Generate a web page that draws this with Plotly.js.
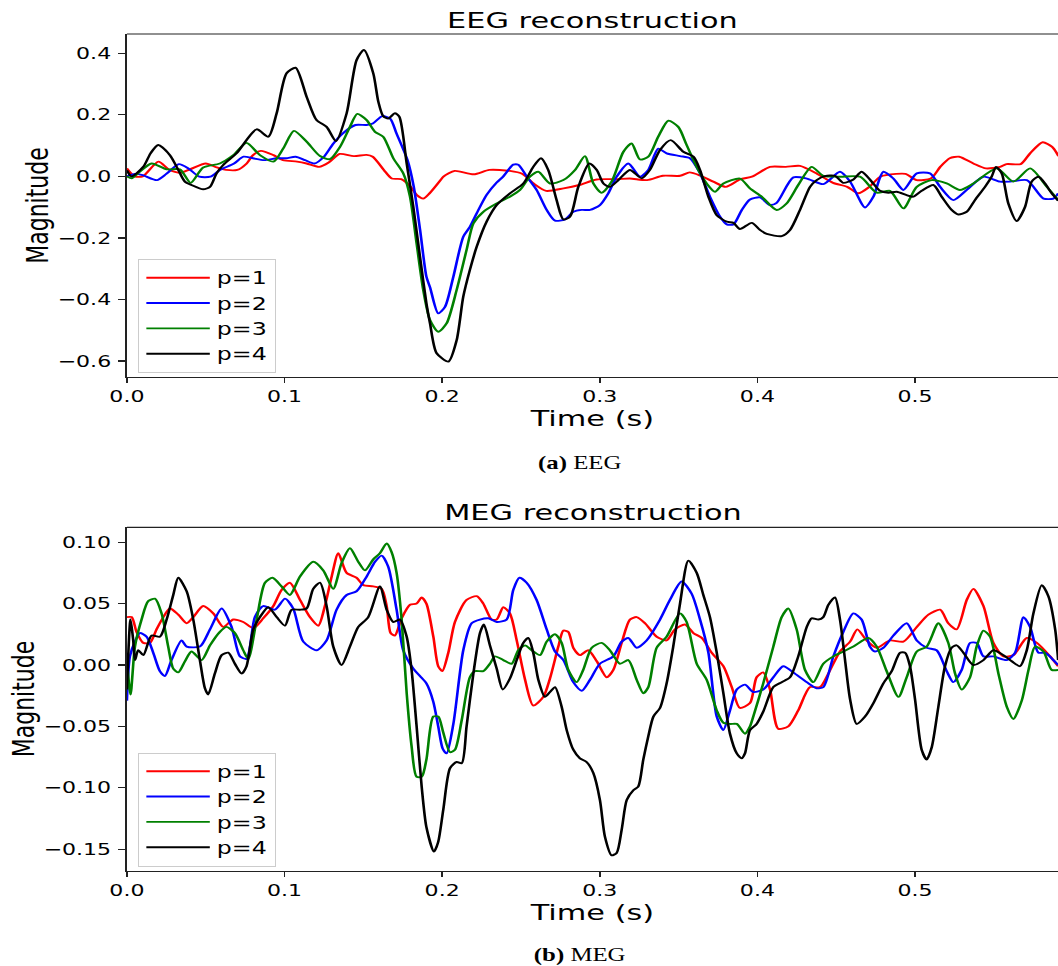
<!DOCTYPE html>
<html><head><meta charset="utf-8">
<script src="https://cdn.plot.ly/plotly-3.0.1.min.js"></script>
<style>
html,body{margin:0;padding:0;overflow:hidden;background:#fff;}
#wrap{width:1058px;height:966px;overflow:hidden;position:relative;}
#chart{width:767px;height:966px;transform:scaleX(1.37940);transform-origin:0 0;}
</style></head><body><div id="wrap"><div id="chart"></div></div>
<script>
// ---- data: [time (s), magnitude] ----
const seriesNames = ['p=1','p=2','p=3','p=4'];
const timeTicks = [0.0,0.1,0.2,0.3,0.4,0.5];
const eegTicks = [-0.6,-0.4,-0.2,0.0,0.2,0.4];
const megTicks = [-0.15,-0.10,-0.05,0.00,0.05,0.10];

const eegP1 = [[0.000,0.026],[0.005,0.000],[0.010,0.000],[0.020,0.048],[0.027,0.021],[0.034,0.012],[0.040,0.023],[0.050,0.042],[0.057,0.029],[0.063,0.021],[0.070,0.021],[0.076,0.042],[0.080,0.069],[0.085,0.083],[0.093,0.069],[0.099,0.053],[0.108,0.048],[0.114,0.042],[0.122,0.031],[0.128,0.045],[0.135,0.073],[0.144,0.066],[0.152,0.070],[0.156,0.064],[0.163,0.021],[0.168,-0.007],[0.174,-0.009],[0.180,-0.034],[0.184,-0.061],[0.188,-0.072],[0.192,-0.055],[0.199,-0.012],[0.201,0.000],[0.208,0.018],[0.220,0.007],[0.230,0.021],[0.243,0.018],[0.251,0.008],[0.258,-0.023],[0.266,-0.047],[0.277,-0.039],[0.287,-0.028],[0.298,-0.010],[0.311,-0.009],[0.319,-0.007],[0.330,-0.012],[0.340,0.002],[0.351,0.002],[0.357,0.013],[0.364,0.002],[0.372,-0.017],[0.380,-0.034],[0.389,-0.010],[0.397,0.000],[0.408,0.031],[0.418,0.031],[0.427,0.034],[0.438,0.008],[0.448,-0.021],[0.457,-0.034],[0.464,-0.055],[0.471,-0.034],[0.478,-0.001],[0.488,0.008],[0.494,0.008],[0.501,-0.012],[0.510,-0.007],[0.516,0.031],[0.522,0.059],[0.528,0.064],[0.537,0.042],[0.545,0.026],[0.554,0.031],[0.558,0.040],[0.567,0.040],[0.573,0.075],[0.581,0.111],[0.587,0.096],[0.591,0.066]];

const eegP2 = [[0.000,0.000],[0.005,0.008],[0.010,0.004],[0.019,-0.012],[0.025,0.008],[0.033,0.040],[0.039,0.026],[0.046,-0.001],[0.053,-0.001],[0.059,0.021],[0.068,0.042],[0.074,0.064],[0.080,0.059],[0.087,0.053],[0.095,0.059],[0.101,0.059],[0.107,0.064],[0.113,0.053],[0.119,0.042],[0.125,0.064],[0.131,0.107],[0.137,0.140],[0.145,0.167],[0.152,0.167],[0.156,0.172],[0.162,0.196],[0.167,0.188],[0.171,0.140],[0.178,0.053],[0.182,-0.034],[0.186,-0.174],[0.190,-0.326],[0.1923,-0.360],[0.1975,-0.445],[0.2018,-0.424],[0.2071,-0.326],[0.2134,-0.196],[0.2176,-0.164],[0.2219,-0.120],[0.2282,-0.060],[0.2346,-0.020],[0.2388,0.000],[0.2451,0.038],[0.2483,0.038],[0.2536,0.000],[0.2599,-0.044],[0.2663,-0.109],[0.2716,-0.144],[0.2779,-0.140],[0.2832,-0.115],[0.2885,-0.109],[0.2938,-0.109],[0.3001,-0.093],[0.3054,-0.055],[0.3107,-0.001],[0.3181,0.042],[0.3255,-0.001],[0.3308,0.021],[0.3371,0.090],[0.3424,0.075],[0.3509,0.066],[0.3572,0.059],[0.3636,0.010],[0.3699,-0.066],[0.3763,-0.131],[0.3805,-0.156],[0.3848,-0.156],[0.3900,-0.110],[0.3953,-0.075],[0.4016,-0.068],[0.4080,-0.093],[0.4122,-0.086],[0.4228,-0.003],[0.4313,-0.007],[0.4418,-0.025],[0.4524,0.015],[0.4588,-0.017],[0.4683,-0.101],[0.4736,-0.066],[0.4799,0.015],[0.4863,-0.007],[0.4926,-0.044],[0.5011,0.010],[0.5095,0.010],[0.5159,-0.034],[0.5243,-0.077],[0.5328,-0.044],[0.5434,-0.001],[0.5539,-0.017],[0.5603,-0.017],[0.5709,-0.012],[0.5815,-0.072],[0.5878,-0.072],[0.5908,-0.055]];

const eegP3 = [[0.000,0.000],[0.003,-0.006],[0.007,0.010],[0.0157,0.042],[0.0252,0.023],[0.0336,0.023],[0.0404,-0.021],[0.0484,0.029],[0.059,0.042],[0.0675,0.069],[0.0759,0.109],[0.0844,0.069],[0.0929,0.048],[0.0992,0.091],[0.106,0.148],[0.114,0.113],[0.1225,0.066],[0.1288,0.056],[0.1352,0.096],[0.1415,0.161],[0.1462,0.203],[0.1521,0.183],[0.1574,0.145],[0.1626,0.129],[0.169,0.059],[0.1753,0.010],[0.1796,-0.066],[0.1838,-0.218],[0.188,-0.369],[0.1923,-0.467],[0.1975,-0.505],[0.2028,-0.478],[0.2092,-0.369],[0.2155,-0.239],[0.2198,-0.153],[0.2261,-0.115],[0.2346,-0.088],[0.243,-0.066],[0.2494,-0.044],[0.2557,-0.001],[0.261,0.015],[0.2684,-0.023],[0.2769,-0.012],[0.2843,0.021],[0.2906,0.066],[0.2959,-0.023],[0.3012,-0.053],[0.3075,-0.017],[0.315,0.080],[0.3202,0.107],[0.3255,0.055],[0.3308,0.064],[0.3371,0.129],[0.3435,0.181],[0.3498,0.161],[0.3551,0.102],[0.3615,0.031],[0.3678,-0.023],[0.3731,-0.050],[0.3784,-0.023],[0.3889,-0.007],[0.3953,-0.039],[0.4027,-0.066],[0.4122,-0.109],[0.4185,-0.088],[0.4259,-0.028],[0.4344,0.031],[0.4418,0.002],[0.4524,-0.001],[0.4651,-0.001],[0.4757,-0.053],[0.4841,-0.047],[0.4926,-0.104],[0.5011,-0.034],[0.5106,-0.012],[0.5201,-0.023],[0.5285,-0.044],[0.537,-0.023],[0.5518,0.026],[0.5624,-0.017],[0.573,0.026],[0.5836,-0.034],[0.5908,-0.077]];

const eegP4 = [[0.000,0.020],[0.003,0.000],[0.0104,0.031],[0.015,0.075],[0.0199,0.102],[0.0273,0.069],[0.0326,0.021],[0.0368,-0.017],[0.041,-0.028],[0.0484,-0.042],[0.0527,-0.034],[0.0569,0.010],[0.0611,0.037],[0.0696,0.075],[0.0823,0.153],[0.0897,0.129],[0.095,0.205],[0.1013,0.335],[0.107,0.353],[0.114,0.259],[0.1203,0.183],[0.1267,0.161],[0.1326,0.115],[0.1394,0.205],[0.1457,0.378],[0.1504,0.411],[0.1563,0.335],[0.1595,0.243],[0.1626,0.196],[0.1658,0.188],[0.170,0.205],[0.1728,0.194],[0.1775,0.042],[0.1817,-0.099],[0.1859,-0.260],[0.190,-0.413],[0.1923,-0.478],[0.1965,-0.575],[0.2039,-0.602],[0.2092,-0.532],[0.2134,-0.391],[0.2176,-0.304],[0.2219,-0.229],[0.2282,-0.147],[0.2346,-0.093],[0.243,-0.055],[0.2515,-0.023],[0.2578,0.031],[0.2627,0.059],[0.2673,0.021],[0.2726,-0.077],[0.2769,-0.140],[0.2811,-0.131],[0.2864,-0.034],[0.2934,0.042],[0.2981,0.021],[0.3023,-0.023],[0.3064,-0.034],[0.3118,-0.012],[0.3191,0.021],[0.3266,-0.006],[0.3318,0.021],[0.3382,0.086],[0.345,0.118],[0.353,0.080],[0.3594,0.064],[0.3636,0.021],[0.3689,-0.066],[0.3742,-0.126],[0.3805,-0.147],[0.3848,-0.151],[0.3889,-0.171],[0.3964,-0.151],[0.4016,-0.174],[0.4059,-0.187],[0.4154,-0.194],[0.4207,-0.174],[0.427,-0.109],[0.4334,-0.034],[0.4376,-0.012],[0.4429,0.001],[0.4493,0.002],[0.4545,-0.021],[0.4609,-0.010],[0.4661,0.015],[0.4725,-0.017],[0.4778,-0.047],[0.4831,-0.053],[0.4884,-0.050],[0.4947,-0.061],[0.4989,-0.066],[0.5042,-0.047],[0.5116,-0.028],[0.5169,-0.066],[0.5232,-0.109],[0.5275,-0.124],[0.5328,-0.115],[0.538,-0.077],[0.5444,-0.034],[0.5486,-0.001],[0.5514,0.031],[0.555,0.010],[0.5592,-0.088],[0.5645,-0.145],[0.5698,-0.099],[0.574,-0.017],[0.5783,-0.001],[0.5825,-0.023],[0.5867,-0.055],[0.5908,-0.079]];

const megP1 = [[0.000,0.039],[0.003,0.039],[0.0061,0.027],[0.0104,0.018],[0.0146,0.018],[0.0188,0.029],[0.0231,0.039],[0.0273,0.046],[0.0326,0.041],[0.0379,0.034],[0.0421,0.039],[0.0484,0.048],[0.0548,0.042],[0.0611,0.031],[0.0675,0.037],[0.0738,0.035],[0.0802,0.030],[0.0865,0.038],[0.0929,0.048],[0.0981,0.061],[0.1034,0.067],[0.1098,0.053],[0.1161,0.039],[0.1214,0.032],[0.1256,0.048],[0.1299,0.072],[0.1341,0.091],[0.1394,0.075],[0.1457,0.071],[0.150,0.065],[0.1563,0.064],[0.1616,0.062],[0.1648,0.048],[0.1673,0.026],[0.170,0.024],[0.1743,0.038],[0.1796,0.049],[0.1838,0.050],[0.187,0.055],[0.190,0.050],[0.1944,0.023],[0.1975,-0.001],[0.2001,-0.005],[0.2039,0.010],[0.2081,0.035],[0.2155,0.053],[0.2219,0.056],[0.2261,0.050],[0.2314,0.037],[0.2346,0.037],[0.2388,0.047],[0.243,0.042],[0.2473,0.020],[0.2526,-0.012],[0.2578,-0.033],[0.2642,-0.026],[0.2684,-0.011],[0.2737,0.015],[0.2769,0.028],[0.280,0.027],[0.2832,0.014],[0.2874,0.008],[0.2927,0.012],[0.2981,0.003],[0.3044,-0.010],[0.3086,-0.004],[0.3139,0.018],[0.3191,0.037],[0.3234,0.039],[0.3287,0.034],[0.3361,0.023],[0.3424,0.020],[0.3477,0.029],[0.354,0.033],[0.3594,0.026],[0.3647,0.022],[0.371,0.010],[0.3784,-0.001],[0.3837,-0.018],[0.3889,-0.035],[0.3953,-0.031],[0.3995,-0.010],[0.4037,-0.006],[0.408,-0.020],[0.4133,-0.052],[0.4196,-0.050],[0.4259,-0.037],[0.4334,-0.018],[0.4397,-0.018],[0.445,-0.007],[0.4524,0.011],[0.4588,0.019],[0.4634,0.029],[0.4693,0.020],[0.4757,0.014],[0.4841,0.020],[0.4926,0.019],[0.5011,0.031],[0.5085,0.041],[0.5159,0.045],[0.5211,0.034],[0.5264,0.029],[0.5328,0.053],[0.537,0.062],[0.5434,0.048],[0.5497,0.018],[0.5561,0.007],[0.5624,0.008],[0.5709,0.022],[0.5773,0.018],[0.5857,0.007],[0.5908,-0.001]];

const megP2 = [[0.000,-0.029],[0.0019,0.007],[0.0051,0.019],[0.0082,0.026],[0.0125,0.023],[0.0167,0.010],[0.0209,-0.005],[0.0241,-0.009],[0.0283,0.004],[0.0347,0.020],[0.0379,0.015],[0.0463,0.015],[0.0527,0.029],[0.0601,0.046],[0.0664,0.031],[0.0717,0.007],[0.0759,0.005],[0.0812,0.039],[0.0865,0.048],[0.0939,0.045],[0.1003,0.054],[0.1055,0.046],[0.1119,0.019],[0.1203,0.012],[0.1267,0.020],[0.133,0.045],[0.1394,0.057],[0.1457,0.060],[0.1521,0.072],[0.1574,0.084],[0.1616,0.089],[0.1658,0.080],[0.1711,0.045],[0.1753,0.012],[0.1817,-0.003],[0.1859,-0.009],[0.190,-0.015],[0.1944,-0.030],[0.1975,-0.050],[0.2003,-0.068],[0.2028,-0.072],[0.2071,-0.048],[0.2134,0.012],[0.2187,0.034],[0.224,0.037],[0.2293,0.038],[0.2346,0.035],[0.2409,0.037],[0.2451,0.061],[0.249,0.071],[0.2536,0.067],[0.2599,0.053],[0.2663,0.029],[0.2716,0.011],[0.2769,0.004],[0.2832,-0.014],[0.2885,-0.021],[0.2938,-0.012],[0.3001,0.001],[0.3086,0.007],[0.3139,0.019],[0.3181,0.022],[0.3234,0.014],[0.3297,0.020],[0.3382,0.037],[0.3445,0.053],[0.3519,0.068],[0.3583,0.058],[0.3636,0.037],[0.3689,0.010],[0.3742,-0.042],[0.3784,-0.053],[0.3826,-0.037],[0.3869,-0.020],[0.3921,-0.016],[0.3974,-0.022],[0.4037,-0.020],[0.4101,-0.010],[0.4164,-0.001],[0.4238,-0.007],[0.4313,-0.014],[0.4376,-0.019],[0.4418,-0.018],[0.4482,0.007],[0.4545,0.027],[0.4609,0.042],[0.4661,0.037],[0.4714,0.015],[0.4746,0.011],[0.4799,0.014],[0.4863,0.024],[0.4947,0.034],[0.5011,0.020],[0.5074,0.014],[0.5137,0.012],[0.5201,-0.005],[0.5243,-0.014],[0.5296,-0.004],[0.5349,0.018],[0.5391,0.018],[0.5434,0.007],[0.5497,0.007],[0.5582,0.004],[0.5635,0.010],[0.5688,0.039],[0.573,0.031],[0.5783,0.010],[0.5825,0.010],[0.5878,0.004],[0.5908,0.000]];

const megP3 = [[0.000,0.004],[0.0023,-0.024],[0.0051,0.015],[0.0093,0.037],[0.0135,0.052],[0.0178,0.054],[0.022,0.042],[0.0262,0.015],[0.0294,-0.003],[0.0326,-0.006],[0.0368,0.003],[0.041,0.011],[0.0474,0.004],[0.0527,0.016],[0.059,0.027],[0.0632,0.031],[0.0685,0.026],[0.0738,0.012],[0.077,0.005],[0.0823,0.037],[0.0876,0.067],[0.0924,0.071],[0.0981,0.064],[0.1034,0.057],[0.1098,0.072],[0.1182,0.084],[0.1246,0.077],[0.1309,0.062],[0.1362,0.083],[0.1415,0.095],[0.1468,0.084],[0.151,0.077],[0.1563,0.086],[0.1605,0.091],[0.1648,0.099],[0.1679,0.092],[0.1711,0.075],[0.1743,0.037],[0.1775,-0.023],[0.1806,-0.066],[0.1838,-0.091],[0.187,-0.091],[0.190,-0.077],[0.1944,-0.042],[0.1975,-0.042],[0.2007,-0.055],[0.205,-0.071],[0.2081,-0.069],[0.2124,-0.045],[0.2176,-0.010],[0.2208,-0.005],[0.2261,-0.005],[0.2303,0.001],[0.2335,0.007],[0.2388,0.004],[0.2441,0.001],[0.2483,0.012],[0.2526,0.016],[0.2568,0.012],[0.2621,0.008],[0.2663,0.019],[0.2716,0.025],[0.2758,0.018],[0.280,-0.004],[0.2853,-0.014],[0.2895,-0.004],[0.2949,0.014],[0.3012,0.018],[0.3064,0.012],[0.3128,0.001],[0.3181,0.004],[0.3234,-0.012],[0.3276,-0.023],[0.3308,-0.018],[0.3361,0.014],[0.3424,0.023],[0.3509,0.042],[0.3551,0.035],[0.3615,0.001],[0.3678,-0.012],[0.3742,-0.037],[0.3784,-0.047],[0.3826,-0.048],[0.3869,-0.048],[0.3921,-0.056],[0.3953,-0.050],[0.3974,-0.042],[0.4037,-0.015],[0.4101,0.015],[0.4154,0.039],[0.4196,0.046],[0.4249,0.029],[0.4302,-0.004],[0.4355,-0.014],[0.4418,0.001],[0.4482,0.007],[0.4545,0.011],[0.4609,0.015],[0.4704,0.022],[0.4757,0.015],[0.482,-0.005],[0.4895,-0.026],[0.4947,-0.010],[0.5011,0.011],[0.5074,0.015],[0.5148,0.034],[0.5211,0.018],[0.5254,-0.007],[0.5296,-0.020],[0.5349,-0.010],[0.5391,0.015],[0.5434,0.028],[0.5476,0.023],[0.5529,-0.007],[0.5582,-0.034],[0.5624,-0.044],[0.5677,-0.029],[0.572,-0.004],[0.5762,0.015],[0.5815,0.011],[0.5867,-0.004],[0.5908,-0.004]];

const megP4 = [[0.000,-0.020],[0.0023,0.037],[0.004,0.020],[0.0051,0.004],[0.0072,0.012],[0.0104,0.008],[0.0157,0.024],[0.0209,0.023],[0.0252,0.037],[0.0294,0.057],[0.0326,0.071],[0.0379,0.060],[0.0421,0.037],[0.0463,0.004],[0.0495,-0.019],[0.0516,-0.024],[0.0558,-0.007],[0.0601,0.008],[0.0643,0.010],[0.0685,0.001],[0.0728,-0.007],[0.0759,-0.001],[0.0802,0.029],[0.0844,0.039],[0.0897,0.047],[0.095,0.039],[0.1003,0.032],[0.1045,0.045],[0.1098,0.045],[0.114,0.046],[0.1182,0.062],[0.1225,0.067],[0.1267,0.048],[0.1309,0.015],[0.1362,0.000],[0.1415,0.015],[0.1468,0.031],[0.1531,0.039],[0.1605,0.064],[0.1648,0.045],[0.169,0.035],[0.1732,0.037],[0.1775,0.023],[0.1806,-0.004],[0.1838,-0.050],[0.187,-0.099],[0.190,-0.132],[0.1948,-0.152],[0.1975,-0.144],[0.2007,-0.118],[0.205,-0.084],[0.2092,-0.079],[0.2124,-0.080],[0.2155,-0.050],[0.2198,-0.007],[0.224,0.026],[0.2265,0.033],[0.2303,0.016],[0.2346,-0.003],[0.2384,-0.020],[0.243,-0.011],[0.2473,0.004],[0.2515,0.018],[0.2547,0.022],[0.2578,0.010],[0.261,-0.012],[0.2652,-0.026],[0.2684,-0.022],[0.2716,-0.018],[0.2758,-0.034],[0.279,-0.053],[0.2832,-0.069],[0.2874,-0.076],[0.2916,-0.079],[0.2959,-0.088],[0.3001,-0.110],[0.3033,-0.140],[0.3075,-0.155],[0.3107,-0.153],[0.3139,-0.134],[0.3171,-0.110],[0.3213,-0.102],[0.3244,-0.099],[0.3276,-0.077],[0.3308,-0.058],[0.334,-0.042],[0.3382,-0.035],[0.3424,-0.015],[0.3466,0.015],[0.3509,0.050],[0.3562,0.085],[0.3615,0.075],[0.3657,0.057],[0.3699,0.039],[0.3742,0.010],[0.3784,-0.023],[0.3826,-0.056],[0.3869,-0.072],[0.390,-0.076],[0.3921,-0.072],[0.3953,-0.053],[0.3995,-0.048],[0.4037,-0.038],[0.4101,-0.018],[0.4154,-0.014],[0.4207,-0.010],[0.4259,0.007],[0.4313,0.031],[0.4344,0.038],[0.4387,0.037],[0.4418,0.039],[0.445,0.049],[0.4492,0.055],[0.4524,0.037],[0.4556,0.004],[0.4588,-0.028],[0.463,-0.048],[0.4683,-0.042],[0.4736,-0.031],[0.4799,-0.015],[0.4852,-0.005],[0.4905,0.010],[0.4937,0.010],[0.4968,-0.001],[0.500,-0.028],[0.5042,-0.069],[0.5074,-0.077],[0.5106,-0.067],[0.5148,-0.034],[0.519,-0.001],[0.5232,0.014],[0.5264,0.016],[0.5307,0.010],[0.537,0.000],[0.5434,0.004],[0.5497,0.012],[0.5561,0.008],[0.5614,0.003],[0.5666,-0.001],[0.5709,0.012],[0.5751,0.042],[0.5804,0.065],[0.5846,0.056],[0.5889,0.029],[0.5908,0.004]];

const colors = ['#ff0000','#0000ff','#008000','#000000'];

// ---- drawing ----
const FONT = '"DejaVu Sans", Verdana, sans-serif';
function trace(pairs, i, xa, ya, leg) {
  return {
    type: 'scatter', mode: 'lines', name: seriesNames[i],
    x: pairs.map(p => p[0]), y: pairs.map(p => p[1]),
    xaxis: xa, yaxis: ya, legend: leg,
    line: {color: colors[i], width: 1.9, shape: 'spline', smoothing: 0.7}
  };
}
const eegSets = [eegP1, eegP2, eegP3, eegP4];
const megSets = [megP1, megP2, megP3, megP4];
const data = [];
eegSets.forEach((s, i) => data.push(trace(s, i, 'x', 'y', 'legend')));
megSets.forEach((s, i) => data.push(trace(s, i, 'x2', 'y2', 'legend2')));

const H = 966;
const axBase = {
  showline: true, linecolor: '#222', linewidth: 1.2, mirror: false,
  ticks: 'outside', ticklen: 5, tickwidth: 1.2, tickcolor: '#222',
  showgrid: false, zeroline: false,
  tickfont: {family: FONT, size: 16, color: '#000'}
};
function xAxis(anchor) {
  return Object.assign({}, axBase, {
    anchor: anchor, domain: [0, 1], range: [0, 0.5907],
    tickmode: 'array', tickvals: timeTicks, tickformat: '.1f',
    title: {text: 'Time (s)', font: {family: FONT, size: 22, color: '#000'}, standoff: 4}
  });
}
function yAxis(anchor, dom, rng, ticks, fmt) {
  return Object.assign({}, axBase, {
    anchor: anchor, domain: dom, range: rng,
    tickmode: 'array', tickvals: ticks, tickformat: fmt, ticklabelstandoff: 2,
    title: {text: 'Magnitude', font: {family: FONT, size: 22, color: '#000'}, standoff: 0}
  });
}
const legBase = {
  xanchor: 'left', yanchor: 'top', bgcolor: 'rgba(255,255,255,0.85)',
  bordercolor: '#cccccc', borderwidth: 1, itemwidth: 46,
  font: {family: FONT, size: 17.2, color: '#000'}
};
const layout = {
  width: 767, height: H,
  margin: {l: 92, r: 0, t: 0, b: 0},
  paper_bgcolor: '#fff', plot_bgcolor: '#fff',
  font: {family: FONT, color: '#000'},
  showlegend: true,
  title: {text: 'EEG reconstruction', font: {family: FONT, size: 22, color: '#000'},
          xref: 'paper', x: 0.5, xanchor: 'center', yref: 'container', y: 1 - 20 / H, yanchor: 'middle'},
  xaxis: xAxis('y'),
  yaxis: yAxis('x', [1 - 377 / H, 1 - 34 / H], [-0.652, 0.4628], eegTicks, '.1f'),
  xaxis2: xAxis('y2'),
  yaxis2: yAxis('x2', [1 - 870.7 / H, 1 - 527.3 / H], [-0.1675, 0.1121], megTicks, '.2f'),
  legend: Object.assign({}, legBase, {x: 0.012, y: 1 - 259 / H}),
  legend2: Object.assign({}, legBase, {x: 0.012, y: 1 - 752.5 / H}),
  shapes: [
    {type: 'line', xref: 'x domain', yref: 'y domain', x0: 0, x1: 1, y0: 1, y1: 1, line: {color: '#222', width: 1.2}},
    {type: 'line', xref: 'x2 domain', yref: 'y2 domain', x0: 0, x1: 1, y0: 1, y1: 1, line: {color: '#222', width: 1.2}}
  ],
  annotations: [
    {text: 'MEG reconstruction', xref: 'paper', yref: 'paper', x: 0.5, y: 1 - 512 / H,
     xanchor: 'center', yanchor: 'middle', showarrow: false, font: {family: FONT, size: 22, color: '#000'}},
    {text: '<b>(a)</b> EEG', xref: 'paper', yref: 'paper', x: 0.4867, y: 1 - 464 / H,
     xanchor: 'center', yanchor: 'middle', showarrow: false, font: {family: '"Liberation Serif", "DejaVu Serif", serif', size: 18, color: '#000'}},
    {text: '<b>(b)</b> MEG', xref: 'paper', yref: 'paper', x: 0.4867, y: 1 - 955 / H,
     xanchor: 'center', yanchor: 'middle', showarrow: false, font: {family: '"Liberation Serif", "DejaVu Serif", serif', size: 18, color: '#000'}}
  ]
};
Plotly.newPlot('chart', data, layout, {staticPlot: true, displayModeBar: false});
</script></body></html>
